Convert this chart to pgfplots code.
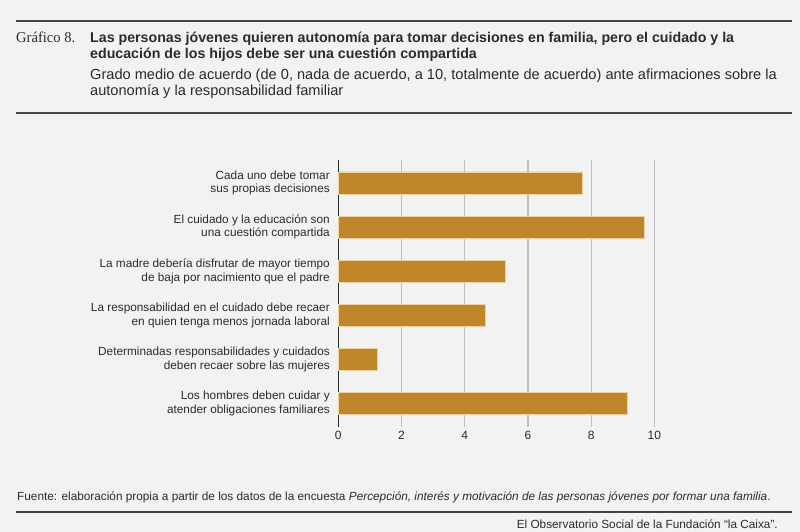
\documentclass[border=0pt]{standalone}
\usepackage{pgfplots}
\pgfplotsset{compat=1.18}
\usepackage{fontspec}
\setmainfont{Liberation Sans}
\newfontfamily\serifc{Liberation Serif}[FakeStretch=0.97]
\definecolor{bg}{HTML}{F2F2F2}
\definecolor{bar}{HTML}{C0862A}
\definecolor{baredge}{HTML}{ECD3A6}
\definecolor{grid}{HTML}{BFBFBF}
\definecolor{txt}{HTML}{2B2B2B}
\definecolor{rule}{HTML}{444444}
\begin{document}
\begin{tikzpicture}[x=1pt,y=1pt]
\fill[bg] (0,0) rectangle (800,532);
\useasboundingbox (0,0) rectangle (800,532);
% header
\draw[rule,line width=2pt] (16,510.5) -- (792,510.5);
\node[anchor=base west,inner sep=0,text=txt,font=\serifc\fontsize{15}{16}\selectfont] at (16,489.5) {Gráfico 8.};
\node[anchor=base west,inner sep=0,text=txt,font=\bfseries\fontsize{14.2}{16}\selectfont] at (90,489) {Las personas jóvenes quieren autonomía para tomar decisiones en familia, pero el cuidado y la};
\node[anchor=base west,inner sep=0,text=txt,font=\bfseries\fontsize{14.2}{16}\selectfont] at (90,473) {educación de los hijos debe ser una cuestión compartida};
\node[anchor=base west,inner sep=0,text=txt,font=\fontsize{14.6}{16}\selectfont] at (90,452) {Grado medio de acuerdo (de 0, nada de acuerdo, a 10, totalmente de acuerdo) ante afirmaciones sobre la};
\node[anchor=base west,inner sep=0,text=txt,font=\fontsize{14.6}{16}\selectfont] at (90,436) {autonomía y la responsabilidad familiar};
\draw[rule,line width=2pt] (16,419) -- (792,419);
% footer
\node[anchor=base west,inner sep=0,text=txt,font=\fontsize{11.8}{13}\selectfont] at (17,31) {Fuente: elaboración propia a partir de los datos de la encuesta \textit{Percepción, interés y motivación de las personas jóvenes por formar una familia}.};
\draw[rule,line width=2pt] (16,20) -- (792,20);
\node[anchor=base east,inner sep=0,text=txt,font=\fontsize{11.8}{13}\selectfont] at (778,3.5) {El Observatorio Social de la Fundación “la Caixa”.};
\begin{axis}[
  at={(338.3pt,105.3pt)}, anchor=south west,
  scale only axis, width=316pt, height=266.7pt,
  xmin=0, xmax=10, ymin=-0.53, ymax=5.52,
  xtick={0,2,4,6,8,10},
  ytick={0,1,2,3,4,5},
  yticklabels={{Los hombres deben cuidar y\\atender obligaciones familiares},
    {Determinadas responsabilidades y cuidados\\deben recaer sobre las mujeres},
    {La responsabilidad en el cuidado debe recaer\\en quien tenga menos jornada laboral},
    {La madre debería disfrutar de mayor tiempo\\de baja por nacimiento que el padre},
    {El cuidado y la educación son\\una cuestión compartida},
    {Cada uno debe tomar\\sus propias decisiones}},
  yticklabel style={align=right,font=\fontsize{11.8}{13.6}\selectfont,text=txt,xshift=-5pt},
  xticklabel style={font=\fontsize{12}{13}\selectfont,text=txt,yshift=-1pt},
  /pgf/number format/assume math mode=true,
  major tick length=0pt,
  xmajorgrids, ymajorgrids=false,
  x grid style={grid,line width=1.2pt},
  axis x line*=bottom,
  axis y line*=left,
  x axis line style={draw=none},
  y axis line style={draw=txt,line width=1pt,-},
  xticklabels={0,2,4,6,8,10},
  clip=false,
]
\addplot[xbar, bar width=22pt, fill=bar, draw=baredge, line width=0.8pt] coordinates {
(9.14,0) (1.25,1) (4.66,2) (5.30,3) (9.68,4) (7.72,5)};
\end{axis}
\end{tikzpicture}
\end{document}
